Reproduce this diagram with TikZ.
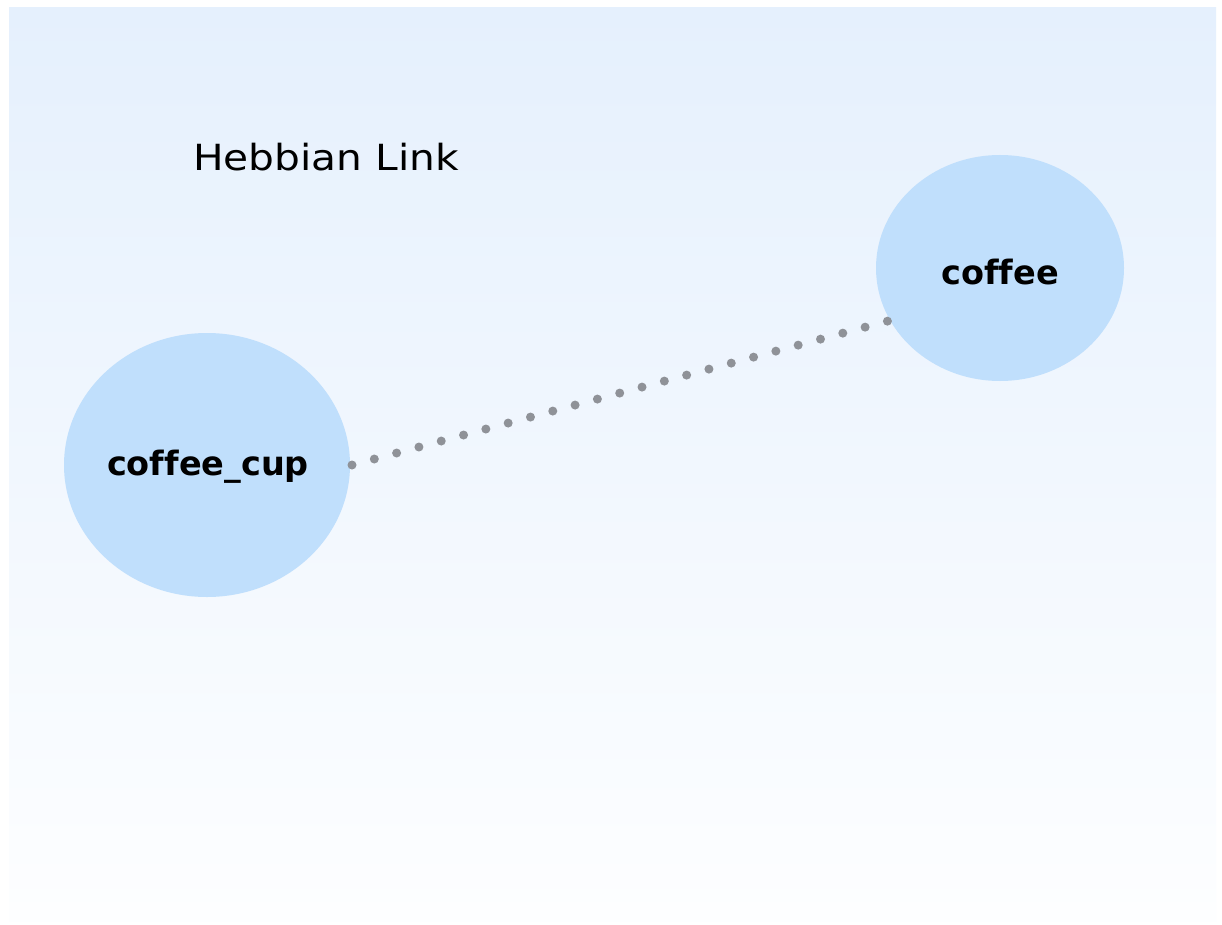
\documentclass[tikz,border=0pt]{standalone}
\usepackage{fontspec}
\setmainfont{DejaVu Sans}[Ligatures=NoCommon]
\newfontfamily\titlefont{DejaVu Sans}[FakeStretch=1.13]
\begin{document}
\begin{tikzpicture}[x=1pt,y=-1pt,
  concept/.style={ellipse, fill=nodeblue, inner sep=0pt},
  label/.style={font=\bfseries\fontsize{33.5}{40}\selectfont, text=black},
  hebb/.style={draw=linkgray, line width=9pt, line cap=round, dash pattern=on 0pt off 23.1pt}]
\definecolor{nodeblue}{HTML}{C0DFFC}
\definecolor{linkgray}{HTML}{8F9298}
\definecolor{bgtop}{HTML}{E5F0FD}
\definecolor{bgbot}{HTML}{FDFEFF}
\usetikzlibrary{shapes.geometric}
\useasboundingbox (0,0) rectangle (1222,925);
\fill[white] (0,0) rectangle (1222,925);
\shade[top color=bgtop, bottom color=bgbot] (9,8) rectangle (1216,921);
\node[concept, minimum width=286pt, minimum height=264pt] (cup) at (207,465) {};
\node[concept, minimum width=248pt, minimum height=226pt] (cof) at (1000,268) {};
\node[label] (cuplbl) at (208,467) {coffee\_cup};
\node[label] (coflbl) at (1000,272) {coffee};
\node[font=\titlefont\fontsize{36}{42}\selectfont, anchor=west, inner sep=0pt] (title) at (193,157) {Hebbian Link};
\coordinate (a) at (352,465);
\coordinate (b) at (888,321);
\draw[hebb] (a) -- (b);
\end{tikzpicture}
\end{document}
